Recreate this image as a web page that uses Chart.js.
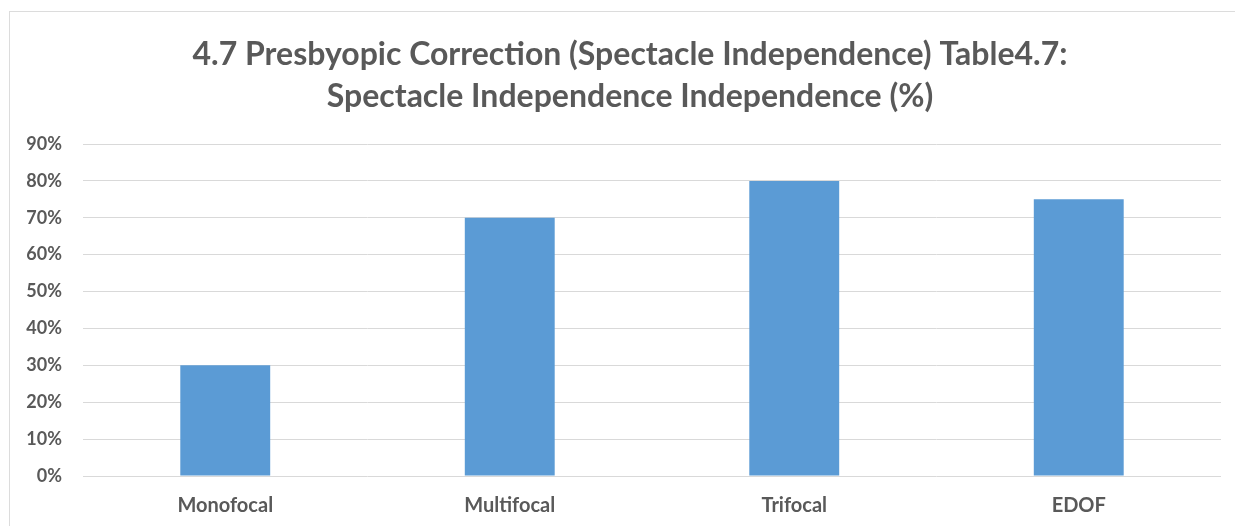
<!DOCTYPE html>
<html>
<head>
    <title>Spectacle Independence</title>
    <script src="https://cdn.jsdelivr.net/npm/chart.js"></script>
    <style>
    body {
      margin: 0;
      background: #fff;
      overflow: hidden;
    }
    /* thin frame like the Excel chart area */
    .frame {
      position: absolute;
      left: 9px;
      top: 11px;
      width: 1300px;
      height: 600px;
      border-left: 1px solid #dcdcdc;
      border-top: 1px solid #dcdcdc;
    }
    .chart-box {
      position: absolute;
      left: 0;
      top: 0;
      width: 1235px;
      height: 526px;
    }
  </style>
</head>
<body>
    <div class="frame"></div>
    <div class="chart-box">
      <canvas id="indepChart"></canvas>
    </div>

    <script>
      // data
      var categories = ['Monofocal', 'Multifocal', 'Trifocal', 'EDOF'];
      var independence = [30, 70, 80, 75];
      var yMax = 90;
      var yStep = 10;
      var titleLines = [
          '4.7 Presbyopic Correction (Spectacle Independence) Table4.7:',
          'Spectacle Independence Independence (%)'
      ];

      var textColor = '#595959';
      var gridColor = '#d9d9d9';

      var ctx = document.getElementById('indepChart').getContext('2d');
      var indepChart = new Chart(ctx, {
          type: 'bar',
          data: {
              labels: categories,
              datasets: [{
                  label: 'Independence',
                  data: independence,
                  backgroundColor: '#5b9bd5',
                  borderWidth: 0,
                  categoryPercentage: 1,
                  barPercentage: 0.316
              }]
          },
          options: {
              responsive: true,
              maintainAspectRatio: false,
              animation: false,
              layout: {
                  padding: { left: 25, right: 0, top: 0, bottom: -2 }
              },
              plugins: {
                  legend: { display: false },
                  tooltip: { enabled: false },
                  title: {
                      display: true,
                      text: titleLines,
                      color: textColor,
                      font: { family: 'Lato', size: 32, weight: 'bold', lineHeight: 1.3125 },
                      padding: { top: 34, bottom: 26 }
                  }
              },
              scales: {
                  x: {
                      grid: { display: false },
                      border: { display: false },
                      ticks: {
                          color: textColor,
                          padding: 10,
                          font: { family: 'Lato', size: 20, weight: 'bold' }
                      }
                  },
                  y: {
                      min: 0,
                      max: yMax,
                      afterFit: function(scale) { scale.width = 58; },
                      grid: { color: gridColor, lineWidth: 1, drawTicks: false },
                      border: { display: false },
                      ticks: {
                          stepSize: yStep,
                          color: textColor,
                          padding: 21,
                          font: { family: 'Lato', size: 18, weight: 'bold' },
                          callback: function(v) { return v + '%'; }
                      }
                  },
                  // empty axis on the right, only keeps the white margin
                  yRight: {
                      position: 'right',
                      min: 0,
                      max: yMax,
                      afterFit: function(scale) { scale.width = 14; },
                      grid: { display: false },
                      border: { display: false },
                      ticks: { display: false }
                  }
              }
          }
      });
    </script>
</body>
</html>
